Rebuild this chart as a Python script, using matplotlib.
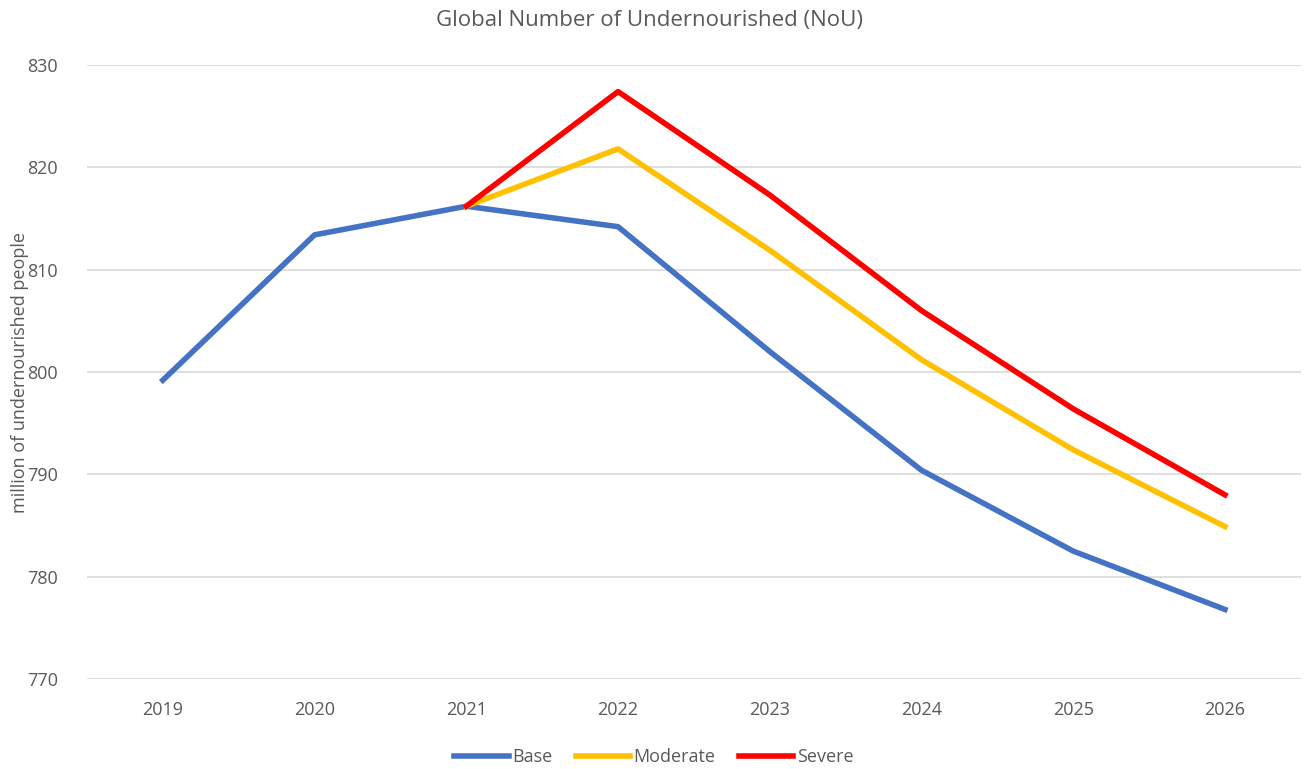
import matplotlib.pyplot as plt

# veriler
years = ["2019", "2020", "2021", "2022", "2023", "2024", "2025", "2026"]
base = [799.2, 813.4, 816.2, 814.2, 802.0, 790.4, 782.5, 776.8]
moderate = [None, None, 816.2, 821.8, 811.9, 801.2, 792.4, 784.9]
severe = [None, None, 816.2, 827.4, 817.3, 806.0, 796.4, 788.0]

plt.rcParams['font.family'] = ['Open Sans', 'DejaVu Sans']
gray = "#595959"

fig = plt.figure(figsize=(13.08, 7.69), dpi=100)
ax = fig.add_axes([0.0665, 0.117, 0.928, 0.7985])

x = list(range(len(years)))
def pts(vals):
    xs = [i for i, v in zip(x, vals) if v is not None]
    ys = [v for v in vals if v is not None]
    return xs, ys

ax.plot(*pts(base), color="#4472C4", lw=4, label="Base", zorder=3)
ax.plot(*pts(moderate), color="#FFC000", lw=4, label="Moderate", zorder=4)
ax.plot(*pts(severe), color="#FF0000", lw=4, label="Severe", zorder=5)

ax.set_xlim(-0.5, 7.5)
ax.set_ylim(770, 830)
ax.set_yticks(range(770, 831, 10))
ax.set_xticks(x)
ax.set_xticklabels(years)
ax.grid(axis="y", color="#d9d9d9", lw=1.2)
ax.set_axisbelow(True)
for s in ax.spines.values():
    s.set_visible(False)
ax.tick_params(length=0, colors=gray, labelsize=13, pad=16)
ax.tick_params(axis="y", pad=21)

ax.set_ylabel("million of undernourished people", color=gray, fontsize=13)
ax.yaxis.set_label_coords(-0.0475, 0.5)
# baslik figurun ortasinda
ax.set_title("Global Number of Undernourished (NoU)", color=gray, fontsize=16, pad=0, y=1.063, x=0.4637)

leg = fig.legend(loc="lower center", ncol=3, frameon=False, fontsize=13,
                 bbox_to_anchor=(0.5, -0.017), handlelength=3.0, columnspacing=1.3,
                 handletextpad=0.2)
for t in leg.get_texts():
    t.set_color(gray)

plt.savefig("out.png", dpi=100)
